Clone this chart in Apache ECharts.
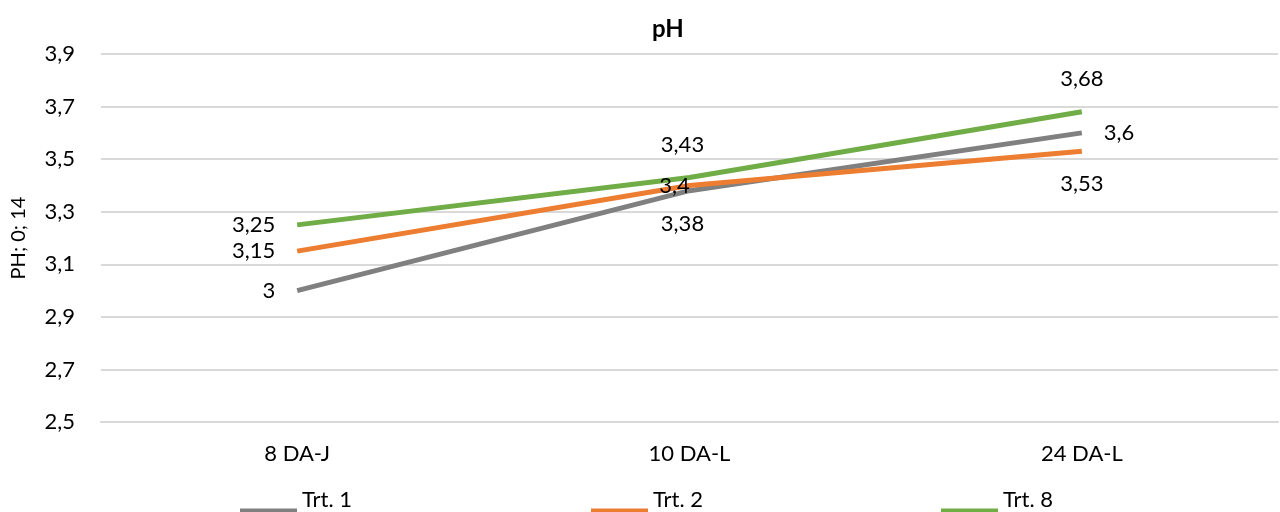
<!DOCTYPE html>
<html>
<head>
<meta charset="utf-8">
<script src="https://cdn.jsdelivr.net/npm/echarts@6/dist/echarts.min.js"></script>
<style>html,body{margin:0;padding:0;background:#fff}#c{width:1280px;height:512px}</style>
</head>
<body>
<div id="c"></div>
<script>
var categories = ['8 DA-J', '10 DA-L', '24 DA-L'];
var seriesNames = ['Trt. 1', 'Trt. 2', 'Trt. 8'];
var trt1 = [3, 3.38, 3.6];
var trt2 = [3.15, 3.4, 3.53];
var trt8 = [3.25, 3.43, 3.68];
var labelPos1 = ['left', 'bottom', 'right'];
var labelPos2 = ['left', 'inside', 'bottom'];
var labelPos8 = ['left', 'top', 'top'];
var colors = ['#808080', '#ED7D31', '#70AD47'];

var FONT = 'Lato';
var FS = 22;
function fmt(v){ return String(v).replace('.', ','); }
function mk(vals, pos){
  return vals.map(function(v,i){
    var off = [0, 0];
    if (i === 1) off = pos[i] === 'inside' ? [-15, 0] : [-7, 0];
    return {value: v, label: {position: pos[i], distance: 22, offset: off}};
  });
}
var chart = echarts.init(document.getElementById('c'));
var mkSeries = function(name, vals, pos, color){
  return {
    name: name, type: 'line', data: mk(vals, pos), symbol: 'circle', symbolSize: 0, showSymbol: true,
    lineStyle: {width: 5, color: color}, itemStyle: {color: color},
    label: {show: true, color: '#000', fontFamily: FONT, fontSize: FS,
      formatter: function(p){ return fmt(p.value); }},
    emphasis: {disabled: true}
  };
};
chart.setOption({
  animation: false,
  title: {text: 'pH', left: 647, top: 12, textStyle: {fontFamily: FONT, fontSize: 24, fontWeight: 'bold', color: '#000'}},
  grid: {left: 101, right: 2, top: 54, bottom: 90, containLabel: false},
  legend: seriesNames.map(function(n, i){
    return {data: [n], padding: 0,
      left: [240, 591, 941][i], top: 489, icon: 'rect', itemWidth: 57, itemHeight: 5,
      itemStyle: {color: colors[i], borderWidth: 0},
      formatter: function(name){ return name + '\n '; },
      textStyle: {fontFamily: FONT, fontSize: FS, lineHeight: 22, color: '#000'}};
  }),
  xAxis: {type: 'category', data: categories, boundaryGap: true,
    axisLine: {lineStyle: {color: '#d9d9d9', width: 2}}, axisTick: {show: false},
    axisLabel: {fontFamily: FONT, fontSize: FS, color: '#000', margin: 21}},
  yAxis: {type: 'value', min: 2.5, max: 3.9, interval: 0.2,
    name: 'PH; 0; 14', nameLocation: 'middle', nameGap: 72,
    nameTextStyle: {fontFamily: FONT, fontSize: 20, color: '#000'},
    axisLabel: {fontFamily: FONT, fontSize: FS, color: '#000', margin: 26,
      formatter: function(v){ return fmt(Math.round(v*10)/10); }},
    splitLine: {lineStyle: {color: '#d9d9d9', width: 2}},
    axisLine: {show: false}, axisTick: {show: false}},
  series: [
    mkSeries(seriesNames[0], trt1, labelPos1, colors[0]),
    mkSeries(seriesNames[1], trt2, labelPos2, colors[1]),
    mkSeries(seriesNames[2], trt8, labelPos8, colors[2])
  ]
});
</script>
</body>
</html>
